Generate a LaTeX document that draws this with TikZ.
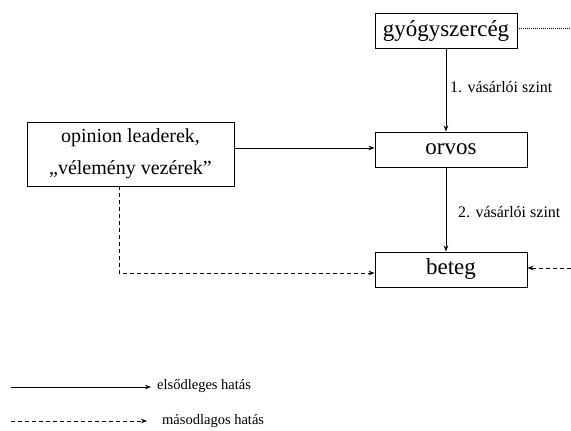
\documentclass[tikz,border=0pt]{standalone}
\usepackage{fontspec}
\setmainfont{Liberation Serif}
\usetikzlibrary{arrows.meta}
\tikzset{
  box/.style={draw=black, line width=0.9pt, inner sep=0pt, font=\fontsize{23}{27}\selectfont},
  conn/.style={line width=0.8pt, -{Stealth[length=6pt,width=4.5pt]}},
  dconn/.style={conn, dash pattern=on 4pt off 3pt},
  lbl/.style={anchor=west, inner sep=0pt, font=\fontsize{16}{19}\selectfont},
  leg/.style={anchor=west, inner sep=0pt, font=\fontsize{14.5}{17}\selectfont},
}
\begin{document}
\begin{tikzpicture}[x=1pt,y=-1pt]
\useasboundingbox (0,0) rectangle (571,431);
\node[box, minimum width=142pt, minimum height=35pt] (gy) at (446,30.5) {gyógyszercég};
\node[box, minimum width=152pt, minimum height=35pt] (orvos) at (451,149.5) {orvos};
\node[box, minimum width=152pt, minimum height=35pt] (beteg) at (451,269.5) {beteg};
\node[box, minimum width=207pt, minimum height=64pt, align=center, font=\fontsize{20}{32}\selectfont] (op) at (130.5,154) {opinion leaderek,\\„vélemény vezérek”};
\coordinate (dotend) at (571,28);
\coordinate (rightin) at (571,268);
\coordinate (opdown) at (119,186);
\coordinate (opout) at ([yshift=6pt]op.east);
% connectors
\draw[conn] (gy.south) -- (gy.south |- orvos.north);
\draw[conn] (orvos.south -| gy.south) -- (beteg.north -| gy.south);
\draw[conn] (opout) -- (orvos.west |- opout);
\draw[dconn] (opdown) |- ([yshift=-3.5pt]beteg.west);
\draw[dconn] (rightin) -- ([yshift=1.5pt]beteg.east);
\draw[line width=0.8pt, dash pattern=on 1pt off 1pt] ([yshift=2.5pt]gy.east) -- (dotend);
% labels
\node[lbl] (l1) at (450,87) {1. vásárlói szint};
\node[lbl] (l2) at (458,212) {2. vásárlói szint};
% legend
\coordinate (s1) at (11,387);
\coordinate (s2) at (151,387);
\coordinate (d1) at (11,421);
\coordinate (d2) at (147,421);
\draw[conn] (s1) -- (s2);
\draw[dconn] (d1) -- (d2);
\node[leg] (t1) at (157,386) {elsődleges hatás};
\node[leg] (t2) at (162,421) {másodlagos hatás};
\end{tikzpicture}
\end{document}
